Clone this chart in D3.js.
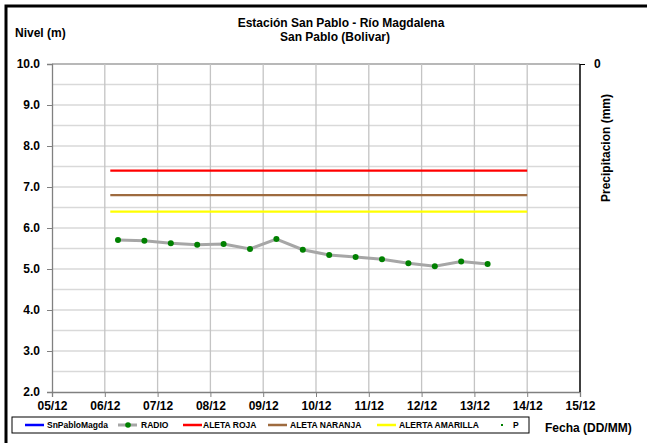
<!DOCTYPE html>
<html><head><meta charset="utf-8">
<script src="https://cdn.jsdelivr.net/npm/d3@7"></script>
<style>
body{margin:0;background:#fff;}
svg{display:block;font-family:"Liberation Sans",Arial,sans-serif;}
</style></head>
<body><svg id="c" width="647" height="443"></svg>
<script>
const xTicks = ["2021-12-05","2021-12-06","2021-12-07","2021-12-08","2021-12-09","2021-12-10","2021-12-11","2021-12-12","2021-12-13","2021-12-14","2021-12-15"];
const yTicks = [2,3,4,5,6,7,8,9,10];
const radioTimes = ["2021-12-06T06:00","2021-12-06T18:00","2021-12-07T06:00","2021-12-07T18:00","2021-12-08T06:00","2021-12-08T18:00","2021-12-09T06:00","2021-12-09T18:00","2021-12-10T06:00","2021-12-10T18:00","2021-12-11T06:00","2021-12-11T18:00","2021-12-12T06:00","2021-12-12T18:00","2021-12-13T06:00"];
const radioValues = [5.71,5.69,5.63,5.59,5.61,5.49,5.73,5.47,5.34,5.29,5.24,5.14,5.07,5.18,5.12];
const alertSpan = ["2021-12-06T02:30","2021-12-14T00:00"];
const alertaRoja = 7.4, alertaNaranja = 6.8, alertaAmarilla = 6.4;
const legendNames = ["SnPabloMagda","RADIO","ALETA ROJA","ALETA NARANJA","ALERTA AMARILLA","P"];

const parse = d3.isoParse;
const svg = d3.select("#c");
const x = d3.scaleTime().domain([parse(xTicks[0]), parse(xTicks[xTicks.length-1])]).range([52,580]);
const y = d3.scaleLinear().domain([2,10]).range([392,64]);

// frame
svg.append("path").attr("d","M6,443 V6 H647").attr("fill","none").attr("stroke","#000").attr("stroke-width",3);

// horizontal gridlines every 0.5
const hg = d3.range(2.5,10.01,0.5);
svg.append("g").selectAll("line").data(hg).join("line")
  .attr("x1",52).attr("x2",580).attr("y1",d=>y(d)).attr("y2",d=>y(d))
  .attr("stroke",d=>d===10?"#a0a0a0":"#d9d9d9").attr("stroke-width",d=>d===10?1.5:1.6);
// vertical gridlines
svg.append("g").selectAll("line").data(xTicks.slice(1,-1)).join("line")
  .attr("x1",d=>x(parse(d))).attr("x2",d=>x(parse(d))).attr("y1",64).attr("y2",392)
  .attr("stroke","#c4c4c4").attr("stroke-width",1.3);

// alert lines
const a0 = x(parse(alertSpan[0])), a1 = x(parse(alertSpan[1]));
[[alertaRoja,"#ff0000"],[alertaNaranja,"#9e6b3f"],[alertaAmarilla,"#ffff00"]].forEach(([v,c])=>{
  svg.append("line").attr("x1",a0).attr("x2",a1).attr("y1",y(v)).attr("y2",y(v))
    .attr("stroke",c).attr("stroke-width",2.2);
});

// RADIO series
const pts = radioTimes.map((t,i)=>({t:parse(t),v:radioValues[i]}));
svg.append("path").datum(pts)
  .attr("d",d3.line().x(d=>x(d.t)).y(d=>y(d.v)))
  .attr("fill","none").attr("stroke","#a6a6a6").attr("stroke-width",3);
svg.append("g").selectAll("circle").data(pts).join("circle")
  .attr("cx",d=>x(d.t)).attr("cy",d=>y(d.v)).attr("r",3).attr("fill","#008000");

// left axis
const ly = svg.append("g").attr("transform","translate(52,0)")
  .call(d3.axisLeft(y).tickValues(yTicks).tickFormat(d3.format(".1f")).tickSize(5).tickPadding(7));
ly.select(".domain").attr("stroke","#808080").attr("stroke-width",1.3);
ly.selectAll(".tick line").attr("stroke","#808080");
ly.selectAll("text").attr("font-size",12).attr("font-weight","bold").attr("fill","#000")
  .attr("font-family","Liberation Sans, Arial");

// bottom axis
const bx = svg.append("g").attr("transform","translate(0,392)")
  .call(d3.axisBottom(x).tickValues(xTicks.map(parse)).tickFormat(d3.timeFormat("%d/%m")).tickSize(5).tickPadding(4));
bx.select(".domain").attr("stroke","#808080").attr("stroke-width",1.3);
bx.selectAll(".tick line").attr("stroke","#808080");
bx.selectAll("text").attr("font-size",12).attr("font-weight","bold").attr("fill","#000")
  .attr("font-family","Liberation Sans, Arial");

// right axis
const yr = d3.scaleLinear().domain([0,1]).range([64,392]);
const ry = svg.append("g").attr("transform","translate(580,0)")
  .call(d3.axisRight(yr).tickValues([0]).tickFormat(d3.format("d")).tickSize(5).tickPadding(9));
ry.select(".domain").attr("stroke","#000").attr("stroke-width",1.5).attr("d","M0,64V392");
ry.selectAll("text").attr("font-size",12).attr("font-weight","bold").attr("fill","#000")
  .attr("font-family","Liberation Sans, Arial");

// titles
svg.append("text").attr("x",341).attr("y",27).attr("text-anchor","middle")
  .attr("font-size",12).attr("font-weight","bold").text("Estación San Pablo - Río Magdalena");
svg.append("text").attr("x",335).attr("y",41).attr("text-anchor","middle")
  .attr("font-size",12).attr("font-weight","bold").text("San Pablo (Bolivar)");
svg.append("text").attr("x",15).attr("y",37)
  .attr("font-size",12).attr("font-weight","bold").text("Nivel (m)");
svg.append("text").attr("transform","translate(610,148) rotate(-90)").attr("text-anchor","middle")
  .attr("font-size",12).attr("font-weight","bold").text("Precipitacion (mm)");
svg.append("text").attr("x",545).attr("y",432)
  .attr("font-size",12).attr("font-weight","bold").text("Fecha (DD/MM)");

// legend
const lg = svg.append("g");
lg.append("rect").attr("x",12).attr("y",417).attr("width",517).attr("height",16)
  .attr("fill","#fff").attr("stroke","#000").attr("stroke-width",1);
const items = [
  {name:legendNames[0], x:25, tx:47, color:"#0000ff", type:"line"},
  {name:legendNames[1], x:118, tx:141, color:"#a6a6a6", type:"linedot"},
  {name:legendNames[2], x:183, tx:203, color:"#ff0000", type:"line"},
  {name:legendNames[3], x:268, tx:290, color:"#9e6b3f", type:"line"},
  {name:legendNames[4], x:377, tx:399, color:"#ffff00", type:"line"},
  {name:legendNames[5], x:501, tx:513, color:"#008000", type:"dot"}
];
items.forEach(it=>{
  const cy = 425;
  if(it.type!=="dot"){
    lg.append("line").attr("x1",it.x).attr("x2",it.x+19).attr("y1",cy).attr("y2",cy)
      .attr("stroke",it.color).attr("stroke-width",it.type==="linedot"?3:2.5);
  }
  if(it.type==="linedot"){
    lg.append("circle").attr("cx",it.x+10).attr("cy",cy).attr("r",2.8).attr("fill","#008000");
  }
  if(it.type==="dot"){
    lg.append("rect").attr("x",it.x).attr("y",cy-1).attr("width",2).attr("height",2).attr("fill","#008000");
  }
  lg.append("text").attr("x",it.tx).attr("y",cy+3)
    .attr("font-size",8.5).attr("font-weight","bold").text(it.name);
});
</script></body></html>
